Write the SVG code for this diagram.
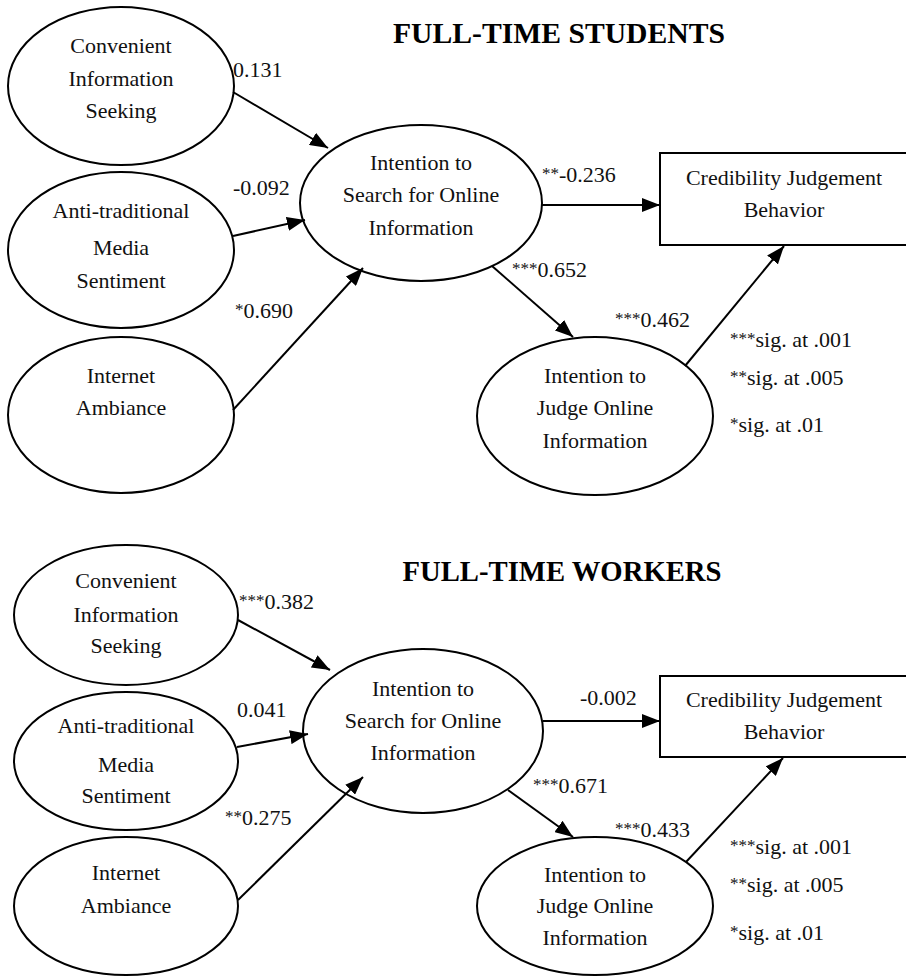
<svg xmlns="http://www.w3.org/2000/svg" width="906" height="976" viewBox="0 0 906 976">
<style>
  .n { fill: none; stroke: #000; stroke-width: 2; }
  .t { font-family: "Liberation Serif", "Times New Roman", serif; font-size: 22px; fill: #111; }
  .c { text-anchor: middle; }
  .h { font-family: "Liberation Serif", "Times New Roman", serif; font-size: 29px; font-weight: bold; fill: #000; text-anchor: middle; }
  .s { font-size: 17px; }
  .e { stroke: #000; stroke-width: 2; fill: none; marker-end: url(#ah); }
</style>
<defs>
  <marker id="ah" viewBox="0 0 18 14" refX="18" refY="7" markerWidth="18" markerHeight="14" markerUnits="userSpaceOnUse" orient="auto">
    <path d="M0,0 L18,7 L0,14 z" fill="#000"/>
  </marker>
</defs>
<rect width="906" height="976" fill="#fff"/>

<!-- Titles -->
<text id="title-students" class="h" x="559" y="43" textLength="332" lengthAdjust="spacingAndGlyphs">FULL-TIME STUDENTS</text>
<text id="title-workers" class="h" x="562" y="581" textLength="319" lengthAdjust="spacingAndGlyphs">FULL-TIME WORKERS</text>

<!-- ===== Top diagram nodes ===== -->
<g id="s-cis">
  <ellipse class="n" cx="121" cy="86" rx="113" ry="79"/>
  <text class="t c" x="121" y="53">Convenient</text>
  <text class="t c" x="121" y="86">Information</text>
  <text class="t c" x="121" y="118">Seeking</text>
</g>
<g id="s-atms">
  <ellipse class="n" cx="121" cy="250" rx="113" ry="78"/>
  <text class="t c" x="121" y="218">Anti-traditional</text>
  <text class="t c" x="121" y="255">Media</text>
  <text class="t c" x="121" y="288">Sentiment</text>
</g>
<g id="s-ia">
  <ellipse class="n" cx="121" cy="415" rx="113" ry="78"/>
  <text class="t c" x="121" y="383">Internet</text>
  <text class="t c" x="121" y="415">Ambiance</text>
</g>
<g id="s-isoi">
  <ellipse class="n" cx="421" cy="203" rx="121" ry="78"/>
  <text class="t c" x="421" y="170">Intention to</text>
  <text class="t c" x="421" y="202">Search for Online</text>
  <text class="t c" x="421" y="235">Information</text>
</g>
<g id="s-cjb">
  <rect class="n" x="660" y="153" width="248" height="92"/>
  <text class="t c" x="784" y="185">Credibility Judgement</text>
  <text class="t c" x="784" y="217">Behavior</text>
</g>
<g id="s-ijoi">
  <ellipse class="n" cx="595" cy="416" rx="118" ry="79"/>
  <text class="t c" x="595" y="383">Intention to</text>
  <text class="t c" x="595" y="415">Judge Online</text>
  <text class="t c" x="595" y="448">Information</text>
</g>

<!-- ===== Bottom diagram nodes ===== -->
<g id="w-cis">
  <ellipse class="n" cx="126" cy="615" rx="112" ry="70"/>
  <text class="t c" x="126" y="588">Convenient</text>
  <text class="t c" x="126" y="622">Information</text>
  <text class="t c" x="126" y="653">Seeking</text>
</g>
<g id="w-atms">
  <ellipse class="n" cx="126" cy="761" rx="112" ry="69"/>
  <text class="t c" x="126" y="733">Anti-traditional</text>
  <text class="t c" x="126" y="772">Media</text>
  <text class="t c" x="126" y="803">Sentiment</text>
</g>
<g id="w-ia">
  <ellipse class="n" cx="126" cy="906" rx="112" ry="69"/>
  <text class="t c" x="126" y="880">Internet</text>
  <text class="t c" x="126" y="913">Ambiance</text>
</g>
<g id="w-isoi">
  <ellipse class="n" cx="423" cy="731" rx="120" ry="82"/>
  <text class="t c" x="423" y="696">Intention to</text>
  <text class="t c" x="423" y="728">Search for Online</text>
  <text class="t c" x="423" y="760">Information</text>
</g>
<g id="w-cjb">
  <rect class="n" x="660" y="676" width="248" height="81"/>
  <text class="t c" x="784" y="707">Credibility Judgement</text>
  <text class="t c" x="784" y="739">Behavior</text>
</g>
<g id="w-ijoi">
  <ellipse class="n" cx="595" cy="906" rx="118" ry="69"/>
  <text class="t c" x="595" y="882">Intention to</text>
  <text class="t c" x="595" y="913">Judge Online</text>
  <text class="t c" x="595" y="945">Information</text>
</g>

<!-- ===== Connectors ===== -->
<g id="connectors">
  <line class="e" x1="233" y1="92" x2="328" y2="148"/>
  <line class="e" x1="233" y1="236" x2="305" y2="220"/>
  <line class="e" x1="233" y1="410" x2="363" y2="268"/>
  <line class="e" x1="542" y1="205" x2="660" y2="205"/>
  <line class="e" x1="492" y1="266" x2="573" y2="337"/>
  <line class="e" x1="685" y1="366" x2="784" y2="246"/>

  <line class="e" x1="238" y1="620" x2="330" y2="670"/>
  <line class="e" x1="237" y1="747" x2="308" y2="734"/>
  <line class="e" x1="238" y1="900" x2="363" y2="777"/>
  <line class="e" x1="543" y1="721" x2="660" y2="721"/>
  <line class="e" x1="508" y1="790" x2="573" y2="837"/>
  <line class="e" x1="686" y1="862" x2="783" y2="758"/>
</g>

<!-- ===== Labels ===== -->
<g id="labels">
  <text class="t" x="233" y="77">0.131</text>
  <text class="t" x="233" y="195">-0.092</text>
  <text class="t" x="235" y="318"><tspan class="s" dy="-3">*</tspan><tspan dy="3">0.690</tspan></text>
  <text class="t" x="542" y="182"><tspan class="s" dy="-3">**</tspan><tspan dy="3">-0.236</tspan></text>
  <text class="t" x="512" y="277"><tspan class="s" dy="-3">***</tspan><tspan dy="3">0.652</tspan></text>
  <text class="t" x="615" y="327"><tspan class="s" dy="-3">***</tspan><tspan dy="3">0.462</tspan></text>
  <text class="t" x="730" y="347"><tspan class="s" dy="-3">***</tspan><tspan dy="3">sig. at .001</tspan></text>
  <text class="t" x="730" y="385"><tspan class="s" dy="-3">**</tspan><tspan dy="3">sig. at .005</tspan></text>
  <text class="t" x="730" y="432"><tspan class="s" dy="-3">*</tspan><tspan dy="3">sig. at .01</tspan></text>

  <text class="t" x="239" y="609"><tspan class="s" dy="-3">***</tspan><tspan dy="3">0.382</tspan></text>
  <text class="t" x="237" y="717">0.041</text>
  <text class="t" x="225" y="825"><tspan class="s" dy="-3">**</tspan><tspan dy="3">0.275</tspan></text>
  <text class="t" x="580" y="705">-0.002</text>
  <text class="t" x="533" y="793"><tspan class="s" dy="-3">***</tspan><tspan dy="3">0.671</tspan></text>
  <text class="t" x="615" y="837"><tspan class="s" dy="-3">***</tspan><tspan dy="3">0.433</tspan></text>
  <text class="t" x="730" y="854"><tspan class="s" dy="-3">***</tspan><tspan dy="3">sig. at .001</tspan></text>
  <text class="t" x="730" y="892"><tspan class="s" dy="-3">**</tspan><tspan dy="3">sig. at .005</tspan></text>
  <text class="t" x="730" y="940"><tspan class="s" dy="-3">*</tspan><tspan dy="3">sig. at .01</tspan></text>
</g>
</svg>
